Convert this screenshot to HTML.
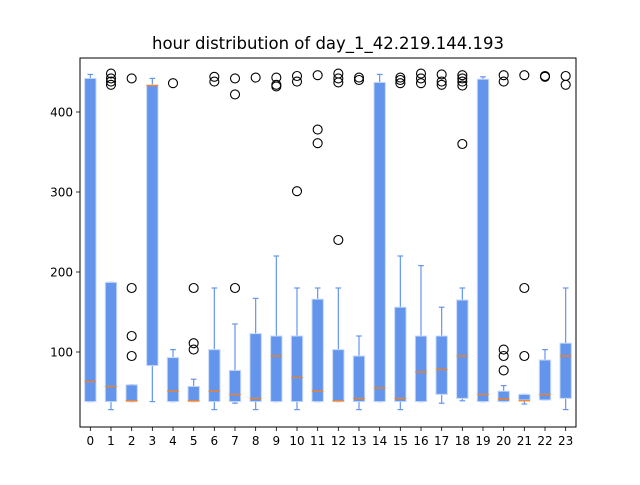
<!DOCTYPE html>
<html><head><meta charset="utf-8"><style>
body{margin:0;background:#fff;}
svg{font-family:"DejaVu Sans","Liberation Sans",sans-serif;}
</style></head><body>
<svg id="chart" width="640" height="480" viewBox="0 0 640 480">
<rect width="640" height="480" fill="#fff"/>
<text x="328" y="49" text-anchor="middle" font-size="16.5">hour distribution of day_1_42.219.144.193</text>
<g id="plot"></g>
</svg>
<script>
const categories = ["0","1","2","3","4","5","6","7","8","9","10","11","12","13","14","15","16","17","18","19","20","21","22","23"];
const q1 = [38,38,38,83,38,38,38,38,38,38,38,38,38,38,38,38,38,47,42,38,38,40,40,42];
const medians = [63,57,39,433,51,39,51,47,42,95,68,51,39,42,55,42,75,78,95,47,41,39,47,95];
const q3 = [442,187,59,434,93,57,103,77,123,120,120,166,103,95,437,156,120,120,165,441,51,47,90,111];
const whiskLow = [38,28,38,38,38,38,28,36,28,38,28,38,38,28,38,28,38,36,39,38,38,35,40,28];
const whiskHigh = [447,187,59,442,103,66,180,135,167,220,180,180,180,120,447,220,208,156,180,444,58,47,103,180];
const outliers = [
  [],
  [448,442,438,434],
  [442,180,120,95],
  [],
  [436],
  [180,111,103],
  [444,438],
  [442,422,180],
  [443],
  [443,434,432],
  [445,438,301],
  [446,378,361],
  [448,442,437,240],
  [443,440],
  [],
  [443,440,436],
  [448,442,436],
  [447,438,434],
  [446,442,438,433,360],
  [],
  [446,438,103,95,77],
  [446,180,95],
  [445,444],
  [445,434]
];
const yTicks = [100,200,300,400];

const L=80,R=576,T=58,B=427;
const xs = i => L + (i+0.5)*(R-L)/categories.length;
const ys = v => 432 - 0.8*v;
const ns="http://www.w3.org/2000/svg";
const g=document.getElementById('plot');
function mk(tag,attrs){const e=document.createElementNS(ns,tag);for(const k in attrs)e.setAttribute(k,attrs[k]);g.appendChild(e);return e;}
const bw=11.4, cw=5.7;
categories.forEach((c,i)=>{
  const x=xs(i);
  let e=mk('line',{x1:x,x2:x,y1:ys(q3[i]),y2:ys(whiskHigh[i]),stroke:'#6495ed','stroke-width':1.2});
  
  
  e=mk('line',{x1:x,x2:x,y1:ys(q1[i]),y2:ys(whiskLow[i]),stroke:'#6495ed','stroke-width':1.2});
  
  
  e=mk('line',{x1:x-cw/2,x2:x+cw/2,y1:ys(whiskHigh[i]),y2:ys(whiskHigh[i]),stroke:'#6495ed','stroke-width':1.2});
  
  
  e=mk('line',{x1:x-cw/2,x2:x+cw/2,y1:ys(whiskLow[i]),y2:ys(whiskLow[i]),stroke:'#6495ed','stroke-width':1.2});
  
  
  e=mk('rect',{x:x-bw/2,y:ys(q3[i]),width:bw,height:Math.max(0.5,ys(q1[i])-ys(q3[i])),fill:'#6495ed',stroke:'#c8daf8','stroke-width':1});
  
  
  e=mk('line',{x1:x-bw/2,x2:x+bw/2,y1:ys(medians[i]),y2:ys(medians[i]),stroke:'#ff7f0e','stroke-width':1.3});
  
  
  outliers[i].forEach((v,j)=>{
    const o=mk('circle',{cx:x,cy:ys(v),r:4.5,fill:'none',stroke:'#000','stroke-width':1.1});
    
    
  });
  const t=mk('line',{x1:x,x2:x,y1:B,y2:B+4,stroke:'#000','stroke-width':0.8});
  
  
  const lb=mk('text',{x:x,y:B+18,'text-anchor':'middle','font-size':12});
  lb.textContent=c;
  
  
});
yTicks.forEach(v=>{
  const y=ys(v);
  const t=mk('line',{x1:L-4,x2:L,y1:y,y2:y,stroke:'#000','stroke-width':0.8});
  
  
  const lb=mk('text',{x:L-7,y:y+4.5,'text-anchor':'end','font-size':12});
  lb.textContent=v;
  
  
});
const fr=mk('rect',{x:L,y:T,width:R-L,height:B-T,fill:'none',stroke:'#000','stroke-width':1});


</script>
</body></html>
